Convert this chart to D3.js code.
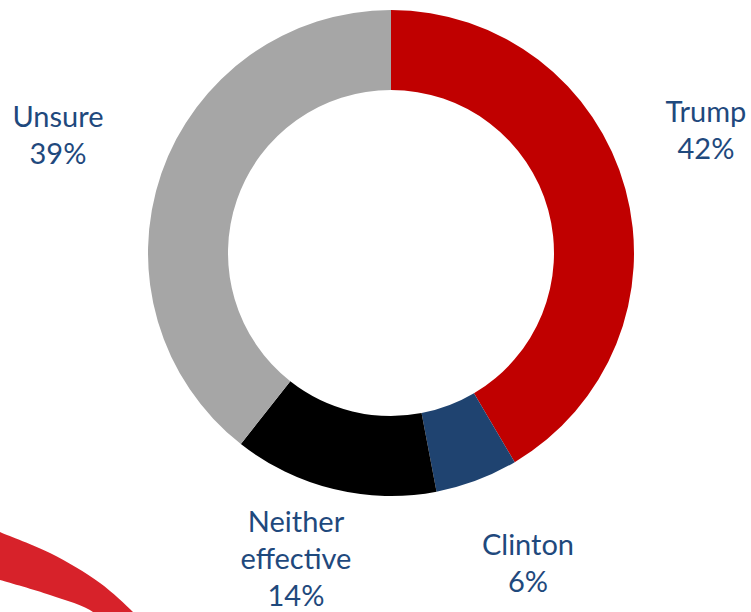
<!DOCTYPE html>
<html>
<head>
<meta charset="utf-8">
<script src="https://cdn.jsdelivr.net/npm/d3@7"></script>
<style>
  html, body { margin: 0; padding: 0; background: #fff; }
  svg { display: block; }
</style>
</head>
<body>
<svg id="chart" width="751" height="612"></svg>
<script>
const categories = ["Trump", "Clinton", "Neither effective", "Unsure"];
const values = [41.5, 5.5, 13.6, 39.4];
const colors = ["#C00000", "#1F4370", "#000000", "#A6A6A6"];
// label lines (per category) and label anchor points [x, baseline y]
const labelLines = [["Trump", "42%"], ["Clinton", "6%"], ["Neither", "effective", "14%"], ["Unsure", "39%"]];
const labelPos = [[706, 122], [528, 555], [296, 532], [58, 127]];

const svg = d3.select("#chart");
const W = 751, H = 612;
const cx = 391, cy = 253, R = 243, r = 163;

// decorative swoosh at bottom-left
const outerEdge = [[-10, 527], [0, 532], [50, 553], [100, 583], [133, 612], [142, 622]];
const innerEdge = [[100, 622], [93, 612], [50, 595], [0, 580], [-10, 577]];
const lineGen = d3.line().curve(d3.curveCatmullRom);
const p1 = lineGen(outerEdge);
const p2 = lineGen(innerEdge).replace(/^M/, "L");
svg.append("path").attr("d", p1 + p2 + "Z").attr("fill", "#D7222A");

const pie = d3.pie().sort(null).value(d => d)(values);
const arc = d3.arc().innerRadius(r).outerRadius(R);
const g = svg.append("g").attr("transform", `translate(${cx},${cy})`);
g.selectAll("path.slice").data(pie).enter().append("path")
  .attr("class", "slice")
  .attr("d", arc)
  .attr("fill", (d, i) => colors[i]);

const lh = 37;
categories.forEach((c, i) => {
  const t = svg.append("text")
    .attr("x", labelPos[i][0]).attr("y", labelPos[i][1])
    .attr("text-anchor", "middle")
    .attr("font-family", "Lato, 'Open Sans', sans-serif")
    .attr("font-size", 29)
    .attr("fill", "#1F497D");
  labelLines[i].forEach((l, j) => {
    t.append("tspan").attr("x", labelPos[i][0]).attr("y", labelPos[i][1] + j * lh).text(l);
  });
});
</script>
</body>
</html>
